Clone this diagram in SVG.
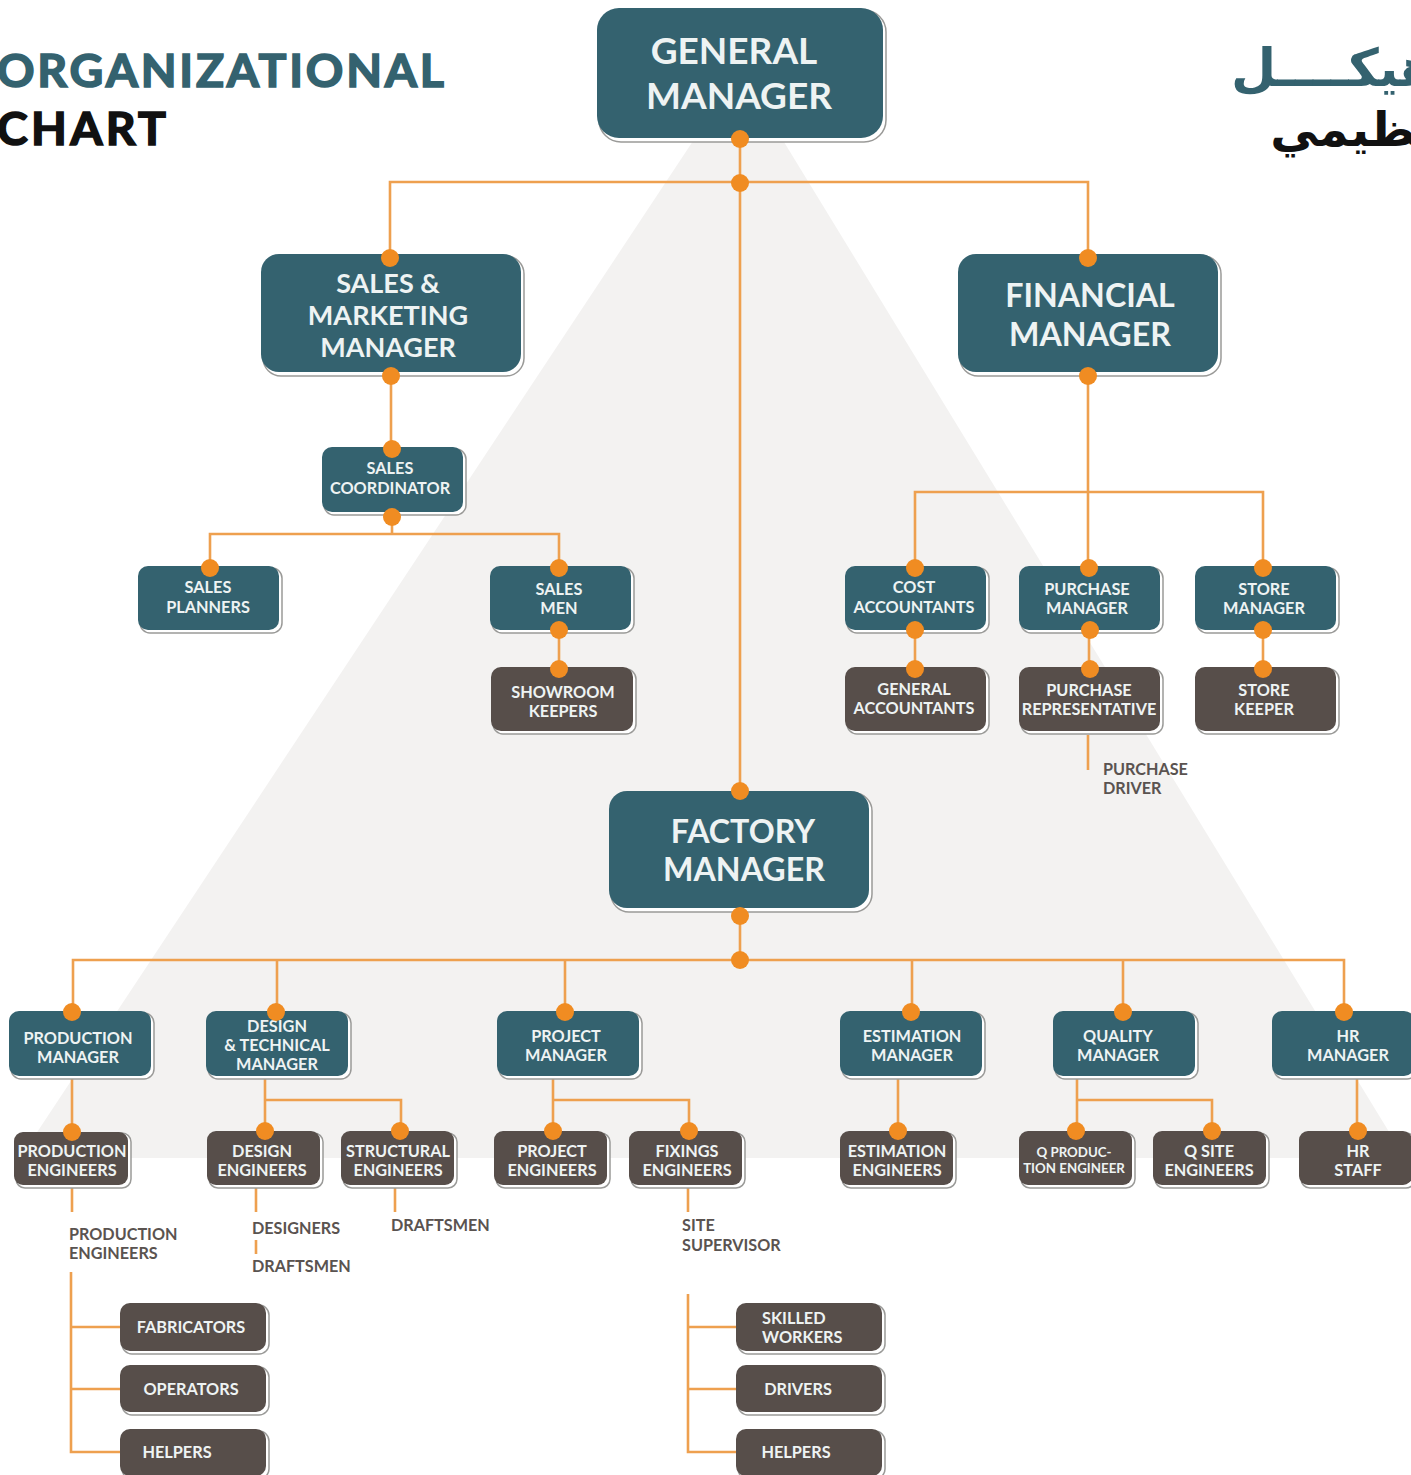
<svg xmlns="http://www.w3.org/2000/svg" width="1411" height="1475" viewBox="0 0 1411 1475">
<style>
text{font-family:Lato,"Open Sans","Liberation Sans",sans-serif;text-anchor:middle;font-weight:700}
.bk{fill:#fff;stroke:#9a9a98;stroke-width:1.5}
.t{fill:#34626f}.b{fill:#574e4a}
.w{fill:#eef3f3}
.xl{font-size:37px}.l{font-size:32.2px}.m{font-size:27px}.s{font-size:16.3px}.g{fill:#5a5350;font-size:16.2px;text-anchor:start}
.c{fill:none;stroke:#eea04f;stroke-width:2.6}
.d{fill:#f08c22}
</style>
<rect width="1411" height="1475" fill="#fff"/>
<polygon points="740,70 20,1158 1405,1158" fill="#f3f2f1"/>
<g id="title">
<text x="-3" y="87" textLength="447" lengthAdjust="spacing" style="text-anchor:start;font-size:46.5px;font-weight:700;fill:#34626f;stroke:#34626f;stroke-width:1.6">ORGANIZATIONAL</text>
<text x="-3" y="145" textLength="169" lengthAdjust="spacing" style="text-anchor:start;font-size:46.5px;font-weight:700;fill:#111;stroke:#111;stroke-width:1.6">CHART</text>
</g>
<g id="arabic-title">
<text x="1436" y="86" direction="rtl" style="text-anchor:start;font-family:'DejaVu Sans',sans-serif;font-weight:700;font-size:52px;fill:#34626f">هيكــــل</text>
<text x="1455" y="146" direction="rtl" style="text-anchor:start;font-family:'DejaVu Sans',sans-serif;font-weight:700;font-size:48px;fill:#111">تنظيمي</text>
</g>
<g id="connectors">
<path class="c" d="M740 140V790M390 258V182H1088V258M391 375V450M1088 375V568M915 568V492H1263V568M392 516V534M210 568V534H559V568M559 630V670M915 630V670M1089 630V670M1263 630V670M1088 735V770M740 915V960M73 1012V960H1344V1012M277 960V1012M565 960V1012M912 960V1012M1123 960V1012M72 1078V1132M265 1078V1132M265 1100H401V1132M553 1078V1132M553 1100H689V1132M898 1078V1132M1077 1078V1132M1077 1100H1212V1132M1357 1078V1132M72 1187V1212M256 1187V1212M256 1240V1254M395 1187V1212M688 1187V1212M71 1272V1452H120M71 1327H120M71 1389H120M688 1294V1452H736M688 1327H736M688 1389H736"/>
</g>
<g id="general-manager"><rect class="bk" x="599" y="10" width="287" height="132" rx="22"/><rect class="t" x="597" y="8" width="286" height="130" rx="22"/><text class="w xl" x="734" y="64">GENERAL</text><text class="w xl" x="739" y="109">MANAGER</text></g>
<g id="sales-marketing-manager"><rect class="bk" x="263" y="256" width="261" height="120" rx="18"/><rect class="t" x="261" y="254" width="260" height="118" rx="18"/><text class="w m" x="388" y="293">SALES &amp;</text><text class="w m" x="388" y="325">MARKETING</text><text class="w m" x="388" y="357">MANAGER</text></g>
<g id="financial-manager"><rect class="bk" x="960" y="256" width="261" height="120" rx="18"/><rect class="t" x="958" y="254" width="260" height="118" rx="18"/><text class="w l" x="1090" y="307">FINANCIAL</text><text class="w l" x="1090" y="346">MANAGER</text></g>
<g id="factory-manager"><rect class="bk" x="611" y="793" width="261" height="119" rx="18"/><rect class="t" x="609" y="791" width="260" height="117" rx="18"/><text class="w l" x="743" y="843">FACTORY</text><text class="w l" x="744" y="881">MANAGER</text></g>

<g id="sales-coordinator"><rect class="bk" x="324" y="449" width="142" height="66" rx="10"/><rect class="t" x="322" y="447" width="141" height="65" rx="10"/><text class="w s" x="390" y="474">SALES</text><text class="w s" x="390" y="494">COORDINATOR</text></g>
<g id="sales-planners"><rect class="bk" x="140" y="568" width="142" height="65" rx="10"/><rect class="t" x="138" y="566" width="141" height="64" rx="10"/><text class="w s" x="208" y="593">SALES</text><text class="w s" x="208" y="613">PLANNERS</text></g>
<g id="sales-men"><rect class="bk" x="492" y="568" width="142" height="65" rx="10"/><rect class="t" x="490" y="566" width="141" height="64" rx="10"/><text class="w s" x="559" y="595">SALES</text><text class="w s" x="559" y="614">MEN</text></g>
<g id="showroom-keepers"><rect class="bk" x="493" y="669" width="143" height="65" rx="10"/><rect class="b" x="491" y="667" width="142" height="64" rx="10"/><text class="w s" x="563" y="698">SHOWROOM</text><text class="w s" x="563" y="717">KEEPERS</text></g>
<g id="cost-accountants"><rect class="bk" x="847" y="568" width="142" height="65" rx="10"/><rect class="t" x="845" y="566" width="141" height="64" rx="10"/><text class="w s" x="914" y="593">COST</text><text class="w s" x="914" y="613">ACCOUNTANTS</text></g>
<g id="purchase-manager"><rect class="bk" x="1021" y="568" width="142" height="65" rx="10"/><rect class="t" x="1019" y="566" width="141" height="64" rx="10"/><text class="w s" x="1087" y="595">PURCHASE</text><text class="w s" x="1087" y="614">MANAGER</text></g>
<g id="store-manager"><rect class="bk" x="1197" y="568" width="142" height="65" rx="10"/><rect class="t" x="1195" y="566" width="141" height="64" rx="10"/><text class="w s" x="1264" y="595">STORE</text><text class="w s" x="1264" y="614">MANAGER</text></g>
<g id="general-accountants"><rect class="bk" x="847" y="669" width="142" height="65" rx="10"/><rect class="b" x="845" y="667" width="141" height="64" rx="10"/><text class="w s" x="914" y="695">GENERAL</text><text class="w s" x="914" y="714">ACCOUNTANTS</text></g>
<g id="purchase-representative"><rect class="bk" x="1021" y="669" width="142" height="65" rx="10"/><rect class="b" x="1019" y="667" width="141" height="64" rx="10"/><text class="w s" x="1089" y="696">PURCHASE</text><text class="w s" x="1089" y="715">REPRESENTATIVE</text></g>
<g id="store-keeper"><rect class="bk" x="1197" y="669" width="142" height="65" rx="10"/><rect class="b" x="1195" y="667" width="141" height="64" rx="10"/><text class="w s" x="1264" y="696">STORE</text><text class="w s" x="1264" y="715">KEEPER</text></g>
<g id="purchase-driver"><text class="g" x="1103" y="775">PURCHASE</text><text class="g" x="1103" y="794">DRIVER</text></g>

<g id="production-manager"><rect class="bk" x="11" y="1013" width="143" height="66" rx="10"/><rect class="t" x="9" y="1011" width="142" height="65" rx="10"/><text class="w s" x="78" y="1044">PRODUCTION</text><text class="w s" x="78" y="1063">MANAGER</text></g>
<g id="design-technical-manager"><rect class="bk" x="208" y="1013" width="143" height="66" rx="10"/><rect class="t" x="206" y="1011" width="142" height="65" rx="10"/><text class="w s" x="277" y="1032">DESIGN</text><text class="w s" x="277" y="1051">&amp; TECHNICAL</text><text class="w s" x="277" y="1070">MANAGER</text></g>
<g id="project-manager"><rect class="bk" x="499" y="1013" width="143" height="66" rx="10"/><rect class="t" x="497" y="1011" width="142" height="65" rx="10"/><text class="w s" x="566" y="1042">PROJECT</text><text class="w s" x="566" y="1061">MANAGER</text></g>
<g id="estimation-manager"><rect class="bk" x="842" y="1013" width="143" height="66" rx="10"/><rect class="t" x="840" y="1011" width="142" height="65" rx="10"/><text class="w s" x="912" y="1042">ESTIMATION</text><text class="w s" x="912" y="1061">MANAGER</text></g>
<g id="quality-manager"><rect class="bk" x="1055" y="1013" width="143" height="66" rx="10"/><rect class="t" x="1053" y="1011" width="142" height="65" rx="10"/><text class="w s" x="1118" y="1042">QUALITY</text><text class="w s" x="1118" y="1061">MANAGER</text></g>
<g id="hr-manager"><rect class="bk" x="1274" y="1013" width="143" height="66" rx="10"/><rect class="t" x="1272" y="1011" width="142" height="65" rx="10"/><text class="w s" x="1348" y="1042">HR</text><text class="w s" x="1348" y="1061">MANAGER</text></g>

<g id="production-engineers"><rect class="bk" x="16" y="1133" width="115" height="55" rx="9"/><rect class="b" x="14" y="1132" width="114" height="53" rx="9"/><text class="w s" x="72" y="1157">PRODUCTION</text><text class="w s" x="72" y="1176">ENGINEERS</text></g>
<g id="design-engineers"><rect class="bk" x="209" y="1133" width="114" height="55" rx="9"/><rect class="b" x="207" y="1131" width="113" height="54" rx="9"/><text class="w s" x="262" y="1157">DESIGN</text><text class="w s" x="262" y="1176">ENGINEERS</text></g>
<g id="structural-engineers"><rect class="bk" x="343" y="1133" width="114" height="55" rx="9"/><rect class="b" x="341" y="1131" width="113" height="54" rx="9"/><text class="w s" x="398" y="1157">STRUCTURAL</text><text class="w s" x="398" y="1176">ENGINEERS</text></g>
<g id="project-engineers"><rect class="bk" x="496" y="1133" width="114" height="55" rx="9"/><rect class="b" x="494" y="1131" width="113" height="54" rx="9"/><text class="w s" x="552" y="1157">PROJECT</text><text class="w s" x="552" y="1176">ENGINEERS</text></g>
<g id="fixings-engineers"><rect class="bk" x="631" y="1133" width="114" height="55" rx="9"/><rect class="b" x="629" y="1131" width="113" height="54" rx="9"/><text class="w s" x="687" y="1157">FIXINGS</text><text class="w s" x="687" y="1176">ENGINEERS</text></g>
<g id="estimation-engineers"><rect class="bk" x="842" y="1133" width="114" height="55" rx="9"/><rect class="b" x="840" y="1131" width="113" height="54" rx="9"/><text class="w s" x="897" y="1157">ESTIMATION</text><text class="w s" x="897" y="1176">ENGINEERS</text></g>
<g id="q-production-engineer"><rect class="bk" x="1021" y="1133" width="114" height="55" rx="9"/><rect class="b" x="1019" y="1131" width="113" height="54" rx="9"/><text class="w" style="font-size:13.3px" x="1074" y="1157">Q PRODUC-</text><text class="w" style="font-size:13.3px" x="1074" y="1173">TION ENGINEER</text></g>
<g id="q-site-engineers"><rect class="bk" x="1155" y="1133" width="114" height="55" rx="9"/><rect class="b" x="1153" y="1131" width="113" height="54" rx="9"/><text class="w s" x="1209" y="1157">Q SITE</text><text class="w s" x="1209" y="1176">ENGINEERS</text></g>
<g id="hr-staff"><rect class="bk" x="1301" y="1133" width="114" height="55" rx="9"/><rect class="b" x="1299" y="1131" width="113" height="54" rx="9"/><text class="w s" x="1358" y="1157">HR</text><text class="w s" x="1358" y="1176">STAFF</text></g>

<g id="production-engineers-label"><text class="g" x="69" y="1240">PRODUCTION</text><text class="g" x="69" y="1259">ENGINEERS</text></g>
<g id="designers"><text class="g" x="252" y="1234">DESIGNERS</text></g>
<g id="draftsmen-1"><text class="g" x="252" y="1272">DRAFTSMEN</text></g>
<g id="draftsmen-2"><text class="g" x="391" y="1231">DRAFTSMEN</text></g>
<g id="site-supervisor"><text class="g" x="682" y="1231">SITE</text><text class="g" x="682" y="1251">SUPERVISOR</text></g>

<g id="fabricators"><rect class="bk" x="122" y="1305" width="147" height="49" rx="10"/><rect class="b" x="120" y="1303" width="146" height="48" rx="10"/><text class="w s" x="191" y="1333">FABRICATORS</text></g>
<g id="operators"><rect class="bk" x="122" y="1367" width="147" height="48" rx="10"/><rect class="b" x="120" y="1365" width="146" height="47" rx="10"/><text class="w s" x="191" y="1395">OPERATORS</text></g>
<g id="helpers-1"><rect class="bk" x="122" y="1431" width="147" height="48" rx="10"/><rect class="b" x="120" y="1429" width="146" height="47" rx="10"/><text class="w s" x="177" y="1458">HELPERS</text></g>
<g id="skilled-workers"><rect class="bk" x="738" y="1305" width="147" height="49" rx="10"/><rect class="b" x="736" y="1303" width="146" height="48" rx="10"/><text class="w s" x="762" y="1324" style="text-anchor:start">SKILLED</text><text class="w s" x="762" y="1343" style="text-anchor:start">WORKERS</text></g>
<g id="drivers"><rect class="bk" x="738" y="1367" width="147" height="48" rx="10"/><rect class="b" x="736" y="1365" width="146" height="47" rx="10"/><text class="w s" x="798" y="1395">DRIVERS</text></g>
<g id="helpers-2"><rect class="bk" x="738" y="1431" width="147" height="48" rx="10"/><rect class="b" x="736" y="1429" width="146" height="47" rx="10"/><text class="w s" x="796" y="1458">HELPERS</text></g>

<g id="dots">
<circle class="d" cx="740" cy="139" r="9"/><circle class="d" cx="740" cy="183" r="9"/><circle class="d" cx="390" cy="258" r="9"/><circle class="d" cx="1088" cy="258" r="9"/><circle class="d" cx="391" cy="376" r="9"/><circle class="d" cx="1088" cy="376" r="9"/><circle class="d" cx="392" cy="449" r="9"/><circle class="d" cx="392" cy="517" r="9"/><circle class="d" cx="210" cy="568" r="9"/><circle class="d" cx="559" cy="568" r="9"/><circle class="d" cx="915" cy="568" r="9"/><circle class="d" cx="1089" cy="568" r="9"/><circle class="d" cx="1263" cy="568" r="9"/><circle class="d" cx="559" cy="630" r="9"/><circle class="d" cx="915" cy="630" r="9"/><circle class="d" cx="1090" cy="630" r="9"/><circle class="d" cx="1263" cy="630" r="9"/><circle class="d" cx="559" cy="669" r="9"/><circle class="d" cx="915" cy="669" r="9"/><circle class="d" cx="1090" cy="669" r="9"/><circle class="d" cx="1263" cy="669" r="9"/><circle class="d" cx="740" cy="791" r="9"/><circle class="d" cx="740" cy="916" r="9"/><circle class="d" cx="740" cy="960" r="9"/><circle class="d" cx="72" cy="1012" r="9"/><circle class="d" cx="276" cy="1012" r="9"/><circle class="d" cx="565" cy="1012" r="9"/><circle class="d" cx="911" cy="1012" r="9"/><circle class="d" cx="1123" cy="1012" r="9"/><circle class="d" cx="1344" cy="1012" r="9"/><circle class="d" cx="72" cy="1132" r="9"/><circle class="d" cx="265" cy="1131" r="9"/><circle class="d" cx="400" cy="1131" r="9"/><circle class="d" cx="553" cy="1131" r="9"/><circle class="d" cx="689" cy="1131" r="9"/><circle class="d" cx="898" cy="1131" r="9"/><circle class="d" cx="1076" cy="1131" r="9"/><circle class="d" cx="1212" cy="1131" r="9"/><circle class="d" cx="1358" cy="1131" r="9"/>
</g>
</svg>
